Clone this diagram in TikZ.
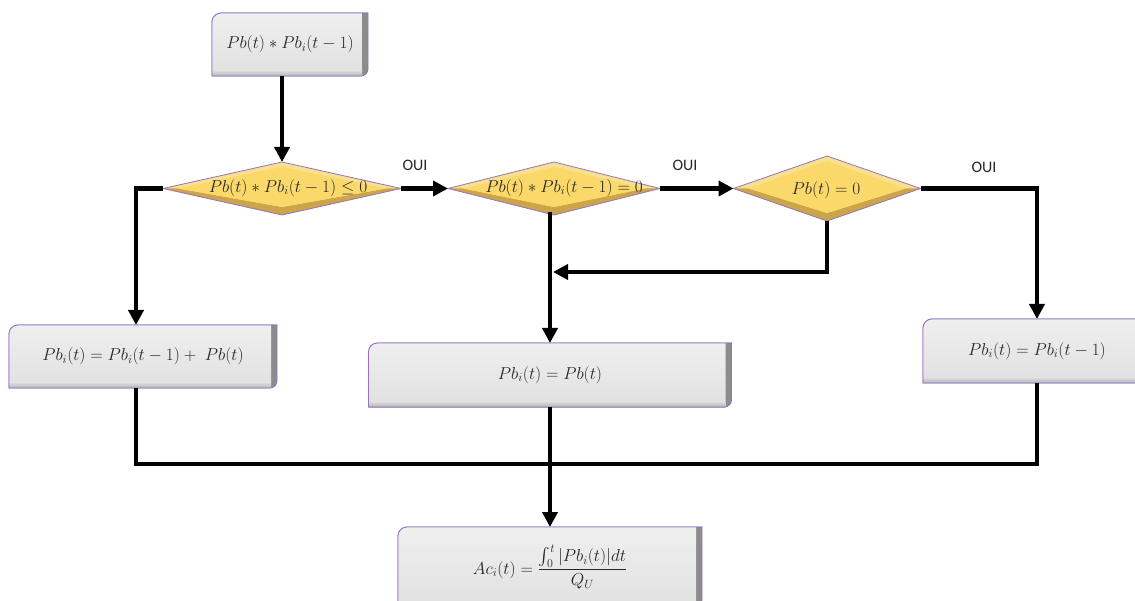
\documentclass[tikz,border=0pt]{standalone}
\usepackage{amsmath}
\usepackage{fontspec}
\newfontfamily\ouifont{Carlito}
\usetikzlibrary{arrows.meta,shapes.geometric,backgrounds,calc}
\definecolor{boxface}{HTML}{E2E2E2}
\definecolor{boxfacetop}{HTML}{EFEFEF}
\definecolor{boxedge}{HTML}{8C8C8C}
\definecolor{boxbottom}{HTML}{B5B5B5}
\definecolor{frame}{HTML}{9673C2}
\definecolor{goldface}{HTML}{FAD96A}
\definecolor{goldup}{HTML}{F7E08E}
\definecolor{golddown}{HTML}{CCA548}
\definecolor{ink}{HTML}{262626}
\begin{document}
\begin{tikzpicture}[x=1pt,y=-1pt,
  mathfont/.style={font=\fontsize{17}{20}\selectfont, text=ink},
  flowbox/.style={rectangle, inner sep=0pt, outer sep=0pt, mathfont},
  dia/.style={diamond, inner sep=0pt, outer sep=0pt},
  diatext/.style={inner sep=0pt, mathfont},
  oui/.style={inner sep=0pt, font=\ouifont\fontsize{16}{19}\selectfont, text=ink},
  conn/.style={line width=4.5pt, black},
  arr/.style={conn, -{Triangle[length=15pt,width=15pt]}}]
\useasboundingbox (0,0) rectangle (1135,601);
\clip (0,0) rectangle (1135,601);

% boxes
\node[flowbox, minimum width=156pt, minimum height=63pt] (b1) at (290,44.5) {$Pb(t)\ast Pb_i(t-1)$};
\node[flowbox, minimum width=268pt, minimum height=63pt] (bl) at (143,356.5) {$Pb_i(t)=Pb_i(t-1)+\;Pb(t)$};
\node[flowbox, minimum width=363pt, minimum height=64pt] (bm) at (550,375) {$Pb_i(t)=Pb(t)$};
\node[flowbox, minimum width=228pt, minimum height=64pt] (br) at (1037,351) {$Pb_i(t)=Pb_i(t-1)$};
\node[flowbox, minimum width=304pt, minimum height=80pt] (bb) at (550,567) {$Ac_i(t)=\dfrac{\int_0^t|Pb_i(t)|dt}{Q_U}$};

% decisions
\node[dia, minimum width=238pt, minimum height=53pt] (d1) at (282,188.5) {};
\node[dia, minimum width=212pt, minimum height=53pt] (d2) at (554,188.5) {};
\node[dia, minimum width=187pt, minimum height=65pt] (d3) at (827,188.5) {};
\node[diatext] (t1) at (288,188) {$Pb(t)\ast Pb_i(t-1)\leq 0$};
\node[diatext] (t2) at (564,188) {$Pb(t)\ast Pb_i(t-1)=0$};
\node[diatext] (t3) at (826,190) {$Pb(t)=0$};

% labels
\node[oui] (o1) at (415,165) {OUI};
\node[oui] (o2) at (685,165) {OUI};
\node[oui] (o3) at (984,167) {OUI};

\begin{pgfonlayer}{background}
\foreach \n in {b1,bl,bm,br,bb}{
  \path[fill=boxedge, draw=frame, line width=0.8pt]
    (\n.south west) -- ([yshift=-9pt]\n.north west) arc[start angle=180,end angle=90,radius=9pt]
    -- (\n.north east) -- ([yshift=7pt]\n.south east) arc[start angle=0,end angle=-90,radius=7pt] -- cycle;
  \path[top color=boxface, bottom color=boxbottom]
    (\n.south west) -- ([yshift=6pt]\n.south west) -- ([xshift=-6pt,yshift=6pt]\n.south east)
    -- ([xshift=-6pt]\n.south east) -- cycle;
  \path[top color=boxfacetop, bottom color=boxface]
    ([yshift=6pt]\n.south west) -- ([yshift=-9pt]\n.north west) arc[start angle=180,end angle=90,radius=9pt]
    -- ([xshift=-6pt]\n.north east) -- ([xshift=-6pt,yshift=6pt]\n.south east) -- cycle;
  \draw[frame, line width=0.8pt]
    ([xshift=-6pt]\n.south east) -- (\n.south west) -- ([yshift=-9pt]\n.north west)
    arc[start angle=180,end angle=90,radius=9pt] -- (\n.north east);
}
\foreach \n in {d1,d2,d3}{
  \coordinate (iN) at ([yshift=-5pt]\n.north);
  \coordinate (iS) at ([yshift=8pt]\n.south);
  \coordinate (iE) at ([xshift=-15pt]\n.east);
  \coordinate (iW) at ([xshift=15pt]\n.west);
  \fill[goldup] (\n.north) -- (\n.east) -- (\n.south) -- (\n.west) -- cycle;
  \fill[golddown] (\n.west) -- (iW) -- (iS) -- (iE) -- (\n.east) -- (\n.south) -- cycle;
  \fill[goldface] (iN) -- (iE) -- (iS) -- (iW) -- cycle;
  \draw[frame, line width=0.8pt] (\n.north) -- (\n.east) -- (\n.south) -- (\n.west) -- cycle;
}
\end{pgfonlayer}

% connectors
\coordinate (j) at (553,272);
\coordinate (h) at (550,464);
\draw[arr] (b1.south -| d1.north) -- (d1.north);
\draw[arr] (d1.east) -- (d2.west);
\draw[arr] (d2.east) -- (d3.west);
\draw[arr] (d3.east) -| (br.north);
\draw[arr] (d1.west) -| ([xshift=-7pt]bl.north);
\draw[arr] ([yshift=3pt]d2.south -| bm.north) -- (bm.north);
\draw[arr] (d3.south) |- (j);
\draw[conn] ([xshift=-7pt]bl.south) |- (h) -| (br.south);
\draw[arr] (bm.south) -- (bb.north);
\end{tikzpicture}
\end{document}
